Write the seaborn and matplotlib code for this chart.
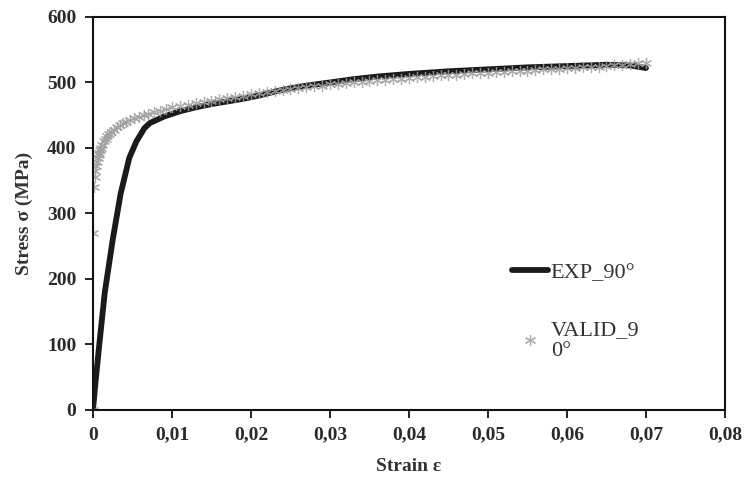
import numpy as np
import pandas as pd
import seaborn as sns
import matplotlib.pyplot as plt
from matplotlib.ticker import FuncFormatter

# EXP_90° : experimental curve (strain, stress in MPa)
exp_strain = [0, 0.0003, 0.0008, 0.0015, 0.0025, 0.0035, 0.0046, 0.0055, 0.0065,
              0.0072, 0.009, 0.011, 0.013, 0.015, 0.017, 0.019, 0.021, 0.023,
              0.025, 0.027, 0.030, 0.033, 0.036, 0.040, 0.045, 0.050, 0.055,
              0.060, 0.065, 0.068, 0.070]
exp_stress = [0, 40, 100, 180, 260, 330, 385, 410, 430,
              438, 448, 456, 462, 467, 471, 475, 480, 486,
              491, 495, 500, 505, 509, 513, 517, 520, 523,
              525, 527, 526, 522]

# VALID_90° : simulation points
valid_strain = [0, 0, 0.0001, 0.0002, 0.0003, 0.0004, 0.0005, 0.0006, 0.0007,
                0.0008, 0.0009, 0.0010, 0.0012, 0.0014, 0.0016, 0.0018, 0.0020,
                0.0023, 0.0026, 0.0030, 0.0034, 0.0038, 0.0042, 0.0047, 0.0052,
                0.0058, 0.0064, 0.0070, 0.0077, 0.0085, 0.0093,
                0.010, 0.011, 0.012, 0.013, 0.014, 0.015, 0.016, 0.017, 0.018,
                0.019, 0.020, 0.021, 0.022, 0.023, 0.024, 0.025, 0.026, 0.027,
                0.028, 0.029, 0.030, 0.031, 0.032, 0.033, 0.034, 0.035, 0.036,
                0.037, 0.038, 0.039, 0.040, 0.041, 0.042, 0.043, 0.044, 0.045,
                0.046, 0.047, 0.048, 0.049, 0.050, 0.051, 0.052, 0.053, 0.054,
                0.055, 0.056, 0.057, 0.058, 0.059, 0.060, 0.061, 0.062, 0.063,
                0.064, 0.065, 0.066, 0.067, 0.068, 0.069, 0.070]
valid_stress = [0, 270, 340, 355, 365, 372, 378, 384, 389,
                393, 397, 400, 405, 410, 414, 418, 421,
                425, 428, 432, 435, 438, 440, 443, 445,
                448, 450, 452, 455, 457, 460,
                462, 464, 466, 468, 470, 472, 474, 476, 478,
                480, 482, 484, 486, 487, 489, 490, 491, 493,
                494, 495, 497, 498, 499, 500, 501, 502, 503,
                504, 505, 506, 507, 508, 509, 510, 511, 511,
                512, 513, 514, 514, 515, 516, 516, 517, 518,
                518, 519, 520, 520, 521, 522, 522, 523, 524,
                524, 525, 526, 527, 528, 529, 530]

x_ticks = [0, 0.01, 0.02, 0.03, 0.04, 0.05, 0.06, 0.07, 0.08]
y_ticks = [0, 100, 200, 300, 400, 500, 600]

df_exp = pd.DataFrame({'strain': exp_strain, 'stress': exp_stress})
df_valid = pd.DataFrame({'strain': valid_strain, 'stress': valid_stress})

sns.set_theme(style="ticks")
plt.rcParams['font.family'] = ['Liberation Serif', 'DejaVu Serif']

fig = plt.figure(figsize=(7.45, 4.84), dpi=100)
ax = fig.add_axes([0.1248, 0.153, 0.8483, 0.812])

sns.lineplot(data=df_exp, x='strain', y='stress', ax=ax, color='#1c1a1a',
             linewidth=4.2, estimator=None, sort=False, label='EXP_90°')
sns.lineplot(data=df_valid, x='strain', y='stress', ax=ax, color='#a0a0a0',
             linestyle='none', marker=(6, 2, 0), markersize=8,
             markeredgewidth=0.9, markeredgecolor='#a0a0a0',
             estimator=None, sort=False, alpha=0.85, label='VALID_9\n0°')

ax.set_xlim(0, 0.08)
ax.set_ylim(0, 600)
ax.set_xticks(x_ticks)
ax.set_yticks(y_ticks)
ax.xaxis.set_major_formatter(FuncFormatter(lambda v, p: ('%g' % round(v, 2)).replace('.', ',')))

for s in ax.spines.values():
    s.set_linewidth(1.5)
    s.set_color('#111111')
ax.tick_params(axis='both', direction='out', length=6, width=1.3, color='#111111',
               labelsize=14, labelcolor='#2a2a2a', pad=6)
for lab in ax.get_xticklabels() + ax.get_yticklabels():
    lab.set_fontweight('bold')

ax.set_xlabel('Strain ε', fontsize=14, fontweight='bold', color='#333333', labelpad=10)
ax.set_ylabel('Stress σ (MPa)', fontsize=14, fontweight='bold', color='#333333', labelpad=10)

leg = ax.legend(loc='upper left', bbox_to_anchor=(0.638, 0.415), frameon=False,
                fontsize=16, handlelength=1.65, handletextpad=0.1,
                labelspacing=1.7, borderpad=0.2)
for t in leg.get_texts():
    t.set_color('#333333')
    t.set_linespacing(1.15)

fig.savefig('out.png', dpi=100)
